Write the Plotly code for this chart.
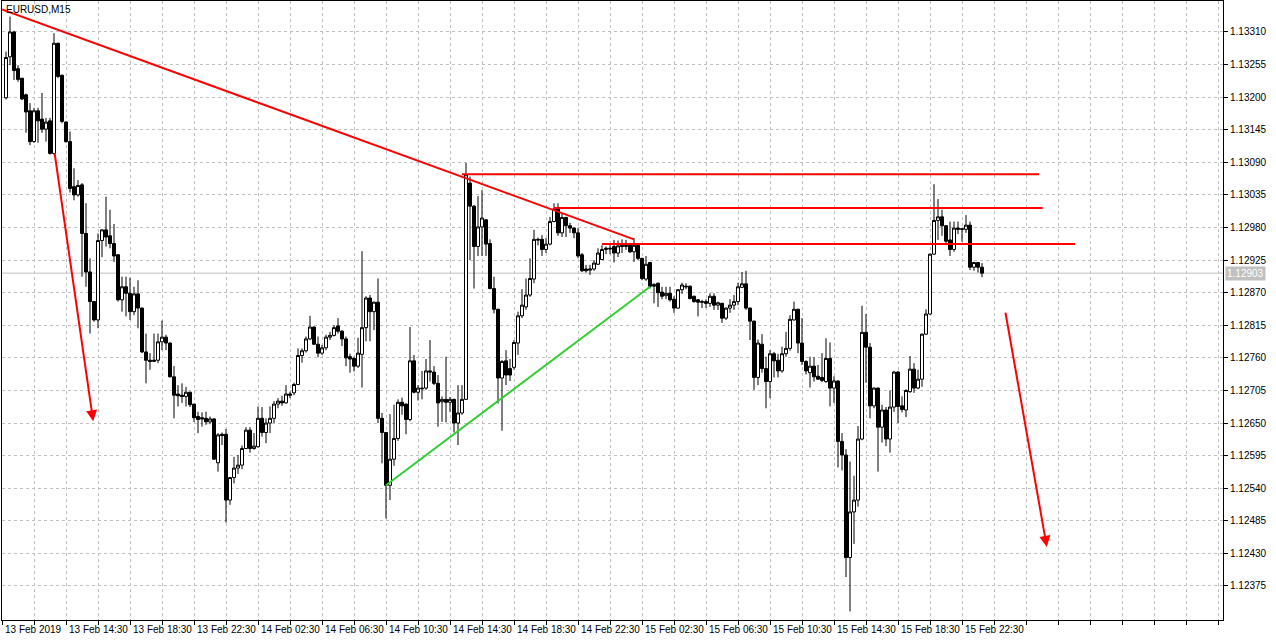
import plotly.graph_objects as go

# ---------------- data (EURUSD M15, bar index 0 = 13 Feb 10:45) ----------------
opens = [1.13199,1.13268,1.13310,1.13248,1.13232,1.13204,1.13177,1.13125,1.13177,1.13163,
1.13146,1.13160,1.13105,1.13291,1.13237,1.13158,1.13125,1.13049,1.13035,1.13052,
1.12970,1.12905,1.12855,1.12824,1.12958,1.12976,1.12966,1.12953,1.12934,1.12858,
1.12880,1.12869,1.12838,1.12868,1.12844,1.12770,1.12756,1.12754,1.12756,1.12787,
1.12795,1.12785,1.12728,1.12699,1.12697,1.12695,1.12702,1.12682,1.12661,1.12659,
1.12658,1.12652,1.12657,1.12583,1.12631,1.12631,1.12520,1.12558,1.12574,1.12579,
1.12607,1.12638,1.12607,1.12610,1.12658,1.12634,1.12650,1.12658,1.12682,1.12687,
1.12684,1.12699,1.12701,1.12715,1.12764,1.12772,1.12792,1.12812,1.12783,1.12768,
1.12777,1.12795,1.12798,1.12814,1.12805,1.12792,1.12762,1.12759,1.12746,1.12766,
1.12811,1.12861,1.12838,1.12854,1.12658,1.12634,1.12545,1.12589,1.12624,1.12685,
1.12682,1.12656,1.12755,1.12702,1.12709,1.12709,1.12738,1.12736,1.12717,1.12686,
1.12690,1.12685,1.12690,1.12650,1.12667,1.12690,1.13055,1.13016,1.12948,1.12981,
1.12993,1.12953,1.12877,1.12842,1.12726,1.12755,1.12742,1.12744,1.12785,1.12831,
1.12846,1.12866,1.12893,1.12960,1.12960,1.12943,1.12952,1.12990,1.13011,1.12971,
1.12997,1.12983,1.12979,1.12971,1.12934,1.12910,1.12908,1.12910,1.12918,1.12926,
1.12943,1.12945,1.12948,1.12937,1.12950,1.12948,1.12950,1.12939,1.12950,1.12928,
1.12893,1.12921,1.12884,1.12886,1.12871,1.12865,1.12869,1.12859,1.12844,1.12875,
1.12881,1.12881,1.12864,1.12858,1.12855,1.12855,1.12852,1.12864,1.12849,1.12852,
1.12827,1.12844,1.12849,1.12855,1.12879,1.12885,1.12844,1.12822,1.12727,1.12783,
1.12742,1.12720,1.12767,1.12756,1.12738,1.12767,1.12776,1.12824,1.12842,1.12785,
1.12754,1.12735,1.12746,1.12729,1.12727,1.12720,1.12759,1.12709,1.12721,1.12619,
1.12596,1.12423,1.12500,1.12520,1.12623,1.12803,1.12778,1.12679,1.12709,1.12643,
1.12672,1.12623,1.12677,1.12736,1.12679,1.12672,1.12703,1.12741,1.12709,1.12724,
1.12800,1.12834,1.12935,1.12992,1.12998,1.12983,1.12959,1.12943,1.12979,1.12978,
1.12977,1.12984,1.12913,1.12921,1.12913]
highs = [1.13277,1.13336,1.13312,1.13254,1.13232,1.13206,1.13190,1.13182,1.13182,1.13207,
1.13165,1.13165,1.13308,1.13292,1.13238,1.13159,1.13142,1.13080,1.13060,1.13055,
1.13021,1.12928,1.12856,1.12970,1.12977,1.13032,1.13010,1.12986,1.12935,1.12897,
1.12897,1.12895,1.12880,1.12891,1.12845,1.12801,1.12768,1.12801,1.12801,1.12823,
1.12799,1.12786,1.12746,1.12714,1.12717,1.12711,1.12703,1.12682,1.12669,1.12668,
1.12669,1.12661,1.12658,1.12633,1.12634,1.12640,1.12559,1.12593,1.12596,1.12612,
1.12643,1.12643,1.12633,1.12678,1.12677,1.12658,1.12678,1.12687,1.12692,1.12696,
1.12714,1.12703,1.12718,1.12776,1.12776,1.12796,1.12831,1.12813,1.12796,1.12782,
1.12799,1.12804,1.12815,1.12827,1.12807,1.12796,1.12767,1.12762,1.12794,1.12940,
1.12864,1.12866,1.12855,1.12894,1.12667,1.12635,1.12665,1.12681,1.12690,1.12693,
1.12683,1.12812,1.12765,1.12714,1.12738,1.12758,1.12790,1.12746,1.12731,1.12695,
1.12762,1.12694,1.12691,1.12714,1.12714,1.13089,1.13066,1.13018,1.13033,1.13043,
1.12994,1.12960,1.12897,1.12843,1.12756,1.12773,1.12758,1.12790,1.12838,1.12876,
1.12894,1.12928,1.12976,1.12963,1.12967,1.12962,1.12998,1.13021,1.13021,1.13004,
1.12998,1.12988,1.12980,1.12979,1.12937,1.12917,1.12917,1.12925,1.12945,1.12950,
1.12948,1.12953,1.12959,1.12958,1.12960,1.12959,1.12954,1.12962,1.12951,1.12929,
1.12932,1.12922,1.12886,1.12887,1.12880,1.12880,1.12880,1.12864,1.12876,1.12887,
1.12886,1.12882,1.12865,1.12859,1.12858,1.12859,1.12869,1.12869,1.12855,1.12853,
1.12845,1.12859,1.12866,1.12887,1.12905,1.12907,1.12845,1.12823,1.12791,1.12800,
1.12762,1.12773,1.12770,1.12767,1.12779,1.12804,1.12832,1.12855,1.12843,1.12827,
1.12756,1.12762,1.12761,1.12748,1.12768,1.12793,1.12786,1.12729,1.12722,1.12633,
1.12606,1.12585,1.12561,1.12645,1.12848,1.12834,1.12785,1.12710,1.12710,1.12681,
1.12677,1.12705,1.12738,1.12738,1.12695,1.12707,1.12763,1.12751,1.12740,1.12801,
1.12842,1.12936,1.13053,1.13028,1.13010,1.12984,1.12990,1.12990,1.12990,1.12979,
1.13001,1.12990,1.12922,1.12922,1.12920]
lows = [1.13196,1.13254,1.13229,1.13226,1.13195,1.13140,1.13119,1.13123,1.13123,1.13140,
1.13125,1.13103,1.13103,1.13232,1.13156,1.13123,1.13039,1.13026,1.13032,1.12897,
1.12880,1.12801,1.12821,1.12810,1.12930,1.12948,1.12945,1.12922,1.12855,1.12838,
1.12830,1.12824,1.12832,1.12810,1.12768,1.12717,1.12740,1.12753,1.12751,1.12773,
1.12773,1.12727,1.12658,1.12678,1.12684,1.12678,1.12677,1.12652,1.12633,1.12644,
1.12647,1.12648,1.12588,1.12568,1.12613,1.12482,1.12512,1.12548,1.12564,1.12572,
1.12606,1.12600,1.12605,1.12609,1.12627,1.12616,1.12633,1.12650,1.12675,1.12679,
1.12683,1.12692,1.12697,1.12714,1.12752,1.12769,1.12790,1.12782,1.12761,1.12765,
1.12773,1.12790,1.12796,1.12801,1.12780,1.12746,1.12735,1.12737,1.12743,1.12710,
1.12788,1.12788,1.12807,1.12650,1.12582,1.12489,1.12520,1.12578,1.12620,1.12664,
1.12631,1.12653,1.12700,1.12688,1.12690,1.12706,1.12720,1.12714,1.12644,1.12652,
1.12651,1.12669,1.12634,1.12613,1.12664,1.12689,1.12925,1.12877,1.12932,1.12932,
1.12932,1.12876,1.12835,1.12683,1.12637,1.12714,1.12721,1.12740,1.12765,1.12827,
1.12841,1.12863,1.12886,1.12950,1.12932,1.12937,1.12950,1.12989,1.12966,1.12964,
1.12964,1.12971,1.12962,1.12928,1.12905,1.12904,1.12900,1.12907,1.12917,1.12925,
1.12935,1.12935,1.12921,1.12930,1.12937,1.12942,1.12937,1.12922,1.12925,1.12891,
1.12890,1.12877,1.12852,1.12846,1.12859,1.12859,1.12855,1.12836,1.12843,1.12868,
1.12876,1.12859,1.12853,1.12830,1.12844,1.12844,1.12846,1.12841,1.12841,1.12819,
1.12824,1.12836,1.12841,1.12849,1.12878,1.12841,1.12790,1.12706,1.12714,1.12735,
1.12675,1.12692,1.12727,1.12727,1.12735,1.12762,1.12772,1.12823,1.12768,1.12748,
1.12732,1.12710,1.12720,1.12723,1.12719,1.12718,1.12678,1.12684,1.12575,1.12570,
1.12390,1.12332,1.12446,1.12509,1.12621,1.12718,1.12658,1.12675,1.12568,1.12617,
1.12611,1.12600,1.12669,1.12650,1.12668,1.12660,1.12701,1.12701,1.12707,1.12711,
1.12799,1.12833,1.12934,1.12959,1.12966,1.12954,1.12932,1.12939,1.12969,1.12956,
1.12971,1.12908,1.12907,1.12904,1.12896]
closes = [1.13267,1.13310,1.13245,1.13230,1.13197,1.13175,1.13125,1.13177,1.13160,1.13146,
1.13158,1.13105,1.13291,1.13235,1.13159,1.13125,1.13046,1.13035,1.13051,1.12970,
1.12905,1.12855,1.12824,1.12958,1.12976,1.12964,1.12953,1.12932,1.12858,1.12880,
1.12869,1.12838,1.12868,1.12844,1.12770,1.12756,1.12754,1.12756,1.12787,1.12795,
1.12785,1.12728,1.12697,1.12696,1.12695,1.12702,1.12681,1.12659,1.12656,1.12657,
1.12652,1.12657,1.12589,1.12630,1.12629,1.12520,1.12558,1.12574,1.12579,1.12607,
1.12638,1.12607,1.12611,1.12658,1.12634,1.12650,1.12658,1.12682,1.12687,1.12684,
1.12699,1.12697,1.12715,1.12764,1.12772,1.12792,1.12812,1.12783,1.12768,1.12777,
1.12795,1.12798,1.12811,1.12805,1.12792,1.12760,1.12758,1.12746,1.12768,1.12811,
1.12861,1.12838,1.12854,1.12658,1.12634,1.12545,1.12589,1.12624,1.12685,1.12679,
1.12656,1.12755,1.12702,1.12709,1.12708,1.12738,1.12736,1.12717,1.12684,1.12690,
1.12685,1.12690,1.12650,1.12667,1.12690,1.13069,1.13016,1.12948,1.12981,1.12996,
1.12952,1.12877,1.12842,1.12726,1.12754,1.12731,1.12731,1.12786,1.12831,1.12849,
1.12866,1.12894,1.12960,1.12959,1.12943,1.12952,1.12990,1.13011,1.12971,1.12997,
1.12983,1.12979,1.12971,1.12932,1.12907,1.12907,1.12910,1.12920,1.12937,1.12943,
1.12945,1.12944,1.12937,1.12949,1.12948,1.12950,1.12939,1.12950,1.12928,1.12894,
1.12918,1.12881,1.12881,1.12870,1.12864,1.12869,1.12858,1.12844,1.12875,1.12883,
1.12880,1.12860,1.12855,1.12854,1.12854,1.12852,1.12864,1.12849,1.12853,1.12827,
1.12844,1.12849,1.12855,1.12880,1.12885,1.12844,1.12822,1.12727,1.12785,1.12742,
1.12720,1.12767,1.12755,1.12738,1.12767,1.12776,1.12825,1.12842,1.12785,1.12754,
1.12738,1.12746,1.12728,1.12724,1.12722,1.12759,1.12709,1.12721,1.12619,1.12596,
1.12423,1.12500,1.12520,1.12623,1.12803,1.12778,1.12679,1.12709,1.12643,1.12672,
1.12623,1.12677,1.12736,1.12678,1.12673,1.12705,1.12741,1.12709,1.12724,1.12800,
1.12834,1.12935,1.12992,1.12998,1.12983,1.12957,1.12943,1.12979,1.12977,1.12977,
1.12984,1.12913,1.12921,1.12913,1.12903]

bar_index = list(range(len(closes)))

# time axis labels (bar index -> label)
time_label_bars = [-1, 15, 31, 47, 63, 79, 95, 111, 127, 143, 159, 175, 191, 207, 223, 239]
time_labels = ["13 Feb 2019", "13 Feb 14:30", "13 Feb 18:30", "13 Feb 22:30",
               "14 Feb 02:30", "14 Feb 06:30", "14 Feb 10:30", "14 Feb 14:30",
               "14 Feb 18:30", "14 Feb 22:30", "15 Feb 02:30", "15 Feb 06:30",
               "15 Feb 10:30", "15 Feb 14:30", "15 Feb 18:30", "15 Feb 22:30"]
grid_bars = list(range(-1, 305, 8))

price_ticks = [1.13310, 1.13255, 1.13200, 1.13145, 1.13090, 1.13035, 1.12980, 1.12925,
               1.12870, 1.12815, 1.12760, 1.12705, 1.12650, 1.12595, 1.12540, 1.12485,
               1.12430, 1.12375]
bid_price = 1.12903

# drawn objects (bar index, price)
trend_red = ([-1, 157], [1.13348, 1.12960])
trend_green = ([95, 161], [1.12545, 1.12880])
levels = [  # (start bar, end bar, price)
    (114, 258.25, 1.13070),
    (137, 259.2, 1.13013),
    (149, 267.25, 1.12952),
]
arrows = [  # (tail bar, tail price, tip bar, tip price)
    (12.1, 1.13108, 21.8, 1.12653),
    (249.8, 1.12839, 260.2, 1.12441),
]

FONT = "Liberation Sans, Arial, sans-serif"

fig = go.Figure()
fig.add_trace(go.Candlestick(
    x=bar_index, open=opens, high=highs, low=lows, close=closes,
    increasing=dict(fillcolor="white", line=dict(color="black", width=1)),
    decreasing=dict(fillcolor="black", line=dict(color="black", width=1)),
    whiskerwidth=0, hoverinfo="skip", showlegend=False,
))

# bid line
fig.add_shape(type="line", xref="paper", x0=0, x1=1, yref="y", y0=bid_price, y1=bid_price,
              line=dict(color="#c0c0c0", width=1), layer="below")

fig.add_trace(go.Scatter(x=trend_red[0], y=trend_red[1], mode="lines",
                         line=dict(color="#ff0000", width=2), hoverinfo="skip", showlegend=False))
fig.add_trace(go.Scatter(x=trend_green[0], y=trend_green[1], mode="lines",
                         line=dict(color="#32cd32", width=2), hoverinfo="skip", showlegend=False))
for x0, x1, p in levels:
    fig.add_trace(go.Scatter(x=[x0, x1], y=[p, p], mode="lines",
                             line=dict(color="#ff0000", width=2), hoverinfo="skip", showlegend=False))

annotations = []
for tx, ty, hx, hy in arrows:
    annotations.append(dict(x=hx, y=hy, ax=tx, ay=ty, xref="x", yref="y", axref="x", ayref="y",
                            text="", showarrow=True, arrowhead=2, arrowsize=1.1, arrowwidth=2,
                            arrowcolor="#ff0000", standoff=0, startstandoff=0))
for b, lab in zip(time_label_bars, time_labels):
    annotations.append(dict(x=b, y=0, xref="x", yref="paper", text=lab, showarrow=False,
                            xanchor="left", yanchor="top", xshift=1, yshift=-2,
                            font=dict(family=FONT, size=10, color="black")))
annotations.append(dict(x=0, y=1, xref="paper", yref="paper", text="EURUSD,M15", showarrow=False,
                        xanchor="left", yanchor="top", xshift=2, yshift=-1,
                        font=dict(family=FONT, size=10, color="black")))
annotations.append(dict(x=1, y=bid_price, xref="paper", yref="y", text="1.12903", showarrow=False,
                        xanchor="left", yanchor="middle", xshift=2, bgcolor="#c0c0c0",
                        borderpad=1, font=dict(family=FONT, size=10, color="white")))

fig.update_layout(
    width=1276, height=640,
    margin=dict(l=2, r=53, t=1, b=20, autoexpand=False),
    paper_bgcolor="white", plot_bgcolor="white",
    boxgap=0.25, boxgroupgap=0,
    annotations=annotations,
    showlegend=False,
    xaxis=dict(range=[-1, 304.25], rangeslider=dict(visible=False), showgrid=True,
               tickvals=grid_bars, ticktext=["" for _ in grid_bars],
               gridcolor="#c0c0c0", griddash="3px,3px", gridwidth=1,
               ticks="outside", ticklen=4, tickcolor="black",
               showline=True, mirror=True, linecolor="black", linewidth=1, zeroline=False,
               fixedrange=True),
    yaxis=dict(range=[1.123176, 1.133623], side="right", tickvals=price_ticks,
               ticktext=[f"{v:.5f}" for v in price_ticks],
               showgrid=True, gridcolor="#c0c0c0", griddash="3px,3px", gridwidth=1,
               ticks="outside", ticklen=4, tickcolor="black",
               tickfont=dict(family=FONT, size=10, color="black"),
               showline=True, mirror=True, linecolor="black", linewidth=1, zeroline=False,
               fixedrange=True),
)

fig.write_html("out.html", config={"displayModeBar": False},
               post_script="document.body.style.margin='0';document.body.style.overflow='hidden';")
